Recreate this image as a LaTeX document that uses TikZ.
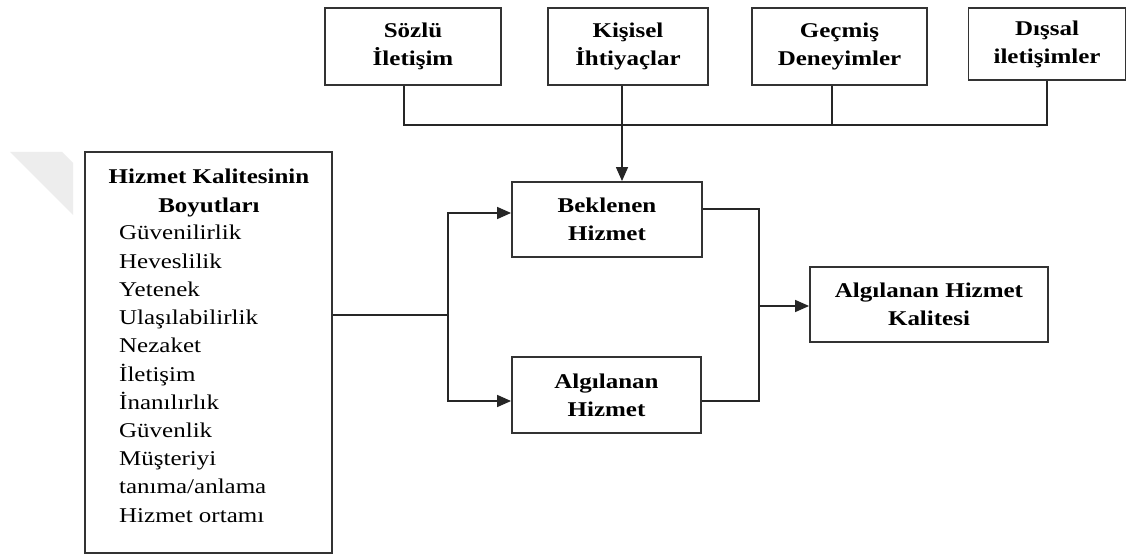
\documentclass[tikz,border=0pt]{standalone}
\usepackage{fontspec}
\setmainfont{Liberation Serif}[FakeStretch=1.19]
\usetikzlibrary{arrows.meta}
\begin{document}
\begin{tikzpicture}[x=1pt,y=-1pt,
  box/.style={draw=black!80, line width=1.9pt, align=center, inner sep=0pt,
    font=\bfseries\fontsize{21}{28}\selectfont},
  link/.style={draw=black!85, line width=1.5pt},
  arr/.style={link, -{Triangle[length=14pt,width=12pt]}},
  item/.style={anchor=base west, inner sep=0pt, font=\fontsize{21}{28}\selectfont},
  head/.style={anchor=base, inner sep=0pt, font=\bfseries\fontsize{21}{28}\selectfont},
]
\useasboundingbox[fill=white] (0,0) rectangle (1127,556);

% faint corner mark
\fill[black!7] (10,152) -- (62,152) -- (73,163) -- (73,215) -- cycle;

% top row of sources
\node[box, minimum width=176pt, minimum height=77pt] (sozlu)   at (413,46.5)  {Sözlü\\İletişim};
\node[box, minimum width=160pt, minimum height=77pt] (kisisel) at (628,46.5)  {Kişisel\\İhtiyaçlar};
\node[box, minimum width=175pt, minimum height=77pt] (gecmis)  at (839.5,46.5){Geçmiş\\Deneyimler};
\node[box, minimum width=157pt, minimum height=72pt] (dissal)  at (1047,44)   {Dışsal\\iletişimler};

% middle and right boxes
\node[box, minimum width=190pt, minimum height=75pt] (beklenen)  at (607,219.5)  {Beklenen\\Hizmet};
\node[box, minimum width=189pt, minimum height=76pt] (algilanan) at (606.5,395)  {Algılanan\\Hizmet};
\node[box, minimum width=238pt, minimum height=75pt] (result)    at (929,304.5)  {Algılanan Hizmet\\Kalitesi};

% dimensions box
\node[box, minimum width=247pt, minimum height=401pt] (dim) at (208.5,352.5) {};
\node[head] (t1) at (209,184) {Hizmet Kalitesinin};
\node[head] (t2) at (209,213) {Boyutları};
\foreach \t [count=\i from 0] in {Güvenilirlik,Heveslilik,Yetenek,Ulaşılabilirlik,Nezaket,İletişim,İnanılırlık,Güvenlik,Müşteriyi,tanıma/anlama,Hizmet ortamı}
  \node[item] (it\i) at (119,{240+28.2*\i}) {\t};

% bus joining the sources
\coordinate (b1) at (404,125);
\coordinate (b2) at (622,125);
\coordinate (b3) at (832,125);
\coordinate (b4) at (1047,125);
\draw[link] (sozlu.south -| b1) -- (b1) -- (b4) -- (dissal.south -| b4);
\draw[link] (gecmis.south -| b3) -- (b3);
\draw[arr] (kisisel.south -| b2) -- (beklenen.north -| b2);

% split from the dimensions box
\coordinate (split) at (448,315);
\draw[link] (dim.east |- split) -- (split);
\draw[arr] (split) |- (beklenen.west |- 0,213);
\draw[arr] (split) |- (algilanan.west |- 0,401);

% merge into perceived quality
\coordinate (merge) at (759,306);
\draw[link] (beklenen.east |- 0,209) -| (merge) |- (algilanan.east |- 0,401);
\draw[arr] (merge) -- (result.west |- merge);
\end{tikzpicture}
\end{document}
